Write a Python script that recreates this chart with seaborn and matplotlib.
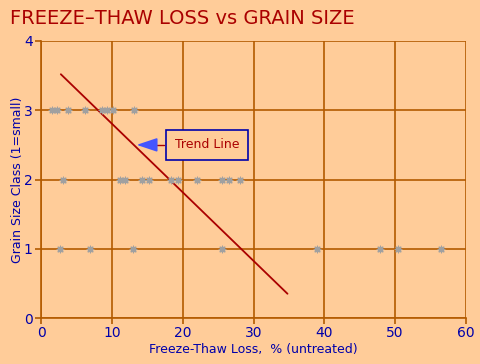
import matplotlib
matplotlib.use('Agg')
import matplotlib.pyplot as plt
import seaborn as sns
import pandas as pd

# freeze-thaw loss (%), by grain size class
loss_class3 = [1.5, 2.2, 3.8, 6.2, 8.6, 9.3, 10.1, 13.1]
loss_class2 = [3.1, 11.2, 11.8, 14.2, 15.2, 18.4, 19.4, 22.0, 25.6, 26.6, 28.1]
loss_class1 = [2.7, 6.9, 13.0, 25.5, 38.9, 47.9, 50.4, 56.4]

trend_x = [2.8, 34.8]
trend_y = [3.52, 0.35]

bg = '#FFCC99'
grid_c = '#B35A00'
blue = '#0000AA'
red = '#AA0000'

df = pd.DataFrame({
    'loss': loss_class3 + loss_class2 + loss_class1,
    'size': [3] * len(loss_class3) + [2] * len(loss_class2) + [1] * len(loss_class1),
})

sns.set_style('white')
plt.rcParams['font.family'] = ['DejaVu Sans']

fig = plt.figure(figsize=(4.8, 3.64), dpi=100, facecolor=bg)
ax = fig.add_axes([41/480, 46/364, 425/480, 277/364])
ax.set_facecolor(bg)

ax.set_xlim(0, 60)
ax.set_ylim(0, 4)
ax.set_xticks(range(0, 61, 10))
ax.set_yticks(range(0, 5))
ax.grid(True, color=grid_c, linewidth=1.2)
ax.set_axisbelow(True)

sns.lineplot(x=trend_x, y=trend_y, ax=ax, color=red, linewidth=1.3)
sns.scatterplot(data=df, x='loss', y='size', ax=ax, marker=(8, 2, 0), s=22,
                color='#A0A0A0', linewidth=0.9, edgecolor='#A0A0A0', zorder=3)

for side in ['top', 'right']:
    ax.spines[side].set_visible(False)
for side in ['left', 'bottom']:
    ax.spines[side].set_color(grid_c)
    ax.spines[side].set_linewidth(1.2)

ax.tick_params(colors=grid_c, length=4, width=1.2, labelcolor=blue, labelsize=10,
               direction='out', left=True, bottom=True, pad=2)

ax.set_xlabel('Freeze-Thaw Loss,  % (untreated)', color=blue, fontsize=9, labelpad=2)
ax.set_ylabel('Grain Size Class (1=small)', color=blue, fontsize=9, labelpad=0)

fig.text(10/480, 1 - 18/364, 'FREEZE\u2013THAW LOSS vs GRAIN SIZE', color=red,
         fontsize=14, va='center', ha='left')

# trend line callout
ax.annotate('', xy=(13.1, 2.5), xytext=(15.6, 2.5),
            arrowprops=dict(arrowstyle='-|>,head_length=0.9,head_width=0.3',
                            color='#4455FF', lw=1.2, mutation_scale=14))
ax.plot([15.6, 17.4], [2.5, 2.5], color=red, lw=1)
ax.text(23.5, 2.5, 'Trend Line', color=red, fontsize=9, ha='center', va='center',
        bbox=dict(boxstyle='square,pad=0.7', fc=bg, ec=blue, lw=1.2))

fig.savefig('out.png', dpi=100, facecolor=bg)
